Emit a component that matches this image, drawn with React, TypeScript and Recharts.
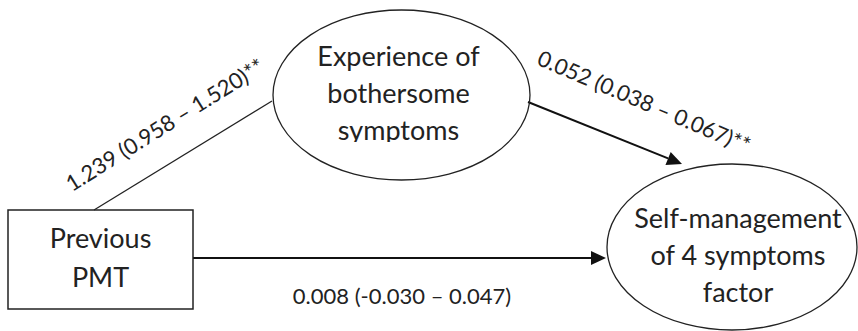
import React from "react";
import { ScatterChart, Scatter, XAxis, YAxis, ReferenceLine } from "recharts";

// ---- data ----
const nodeIds = ["pmt", "bother", "self"];
const nodeLabels = [
  ["Previous", "PMT"],
  ["Experience of", "bothersome", "symptoms"],
  ["Self-management", "of 4 symptoms", "factor"],
];
const nodeX = [100.5, 401.5, 732];
const nodeY = [259.5, 95, 247];

const pathEstimates = [
  "1.239 (0.958 – 1.520)**",
  "0.052 (0.038 – 0.067)**",
  "0.008 (-0.030 – 0.047)",
];
const pathStartX = [94, 528, 193];
const pathStartY = [210, 102, 258];
const pathEndX = [272, 682, 606];
const pathEndY = [101, 164, 258];
const labelX = [165, 644, 402];
const labelY = [125, 102, 296];

// ---- layout / style ----
const W = 858;
const H = 331;
const FONT = "Lato, 'Open Sans', sans-serif";
const nodeStyle: Record<string, any> = {
  pmt: { kind: "rect", w: 185, h: 99, dx: 0, first: -11.5, gap: 39 },
  bother: { kind: "ellipse", rx: 128.5, ry: 85, dx: -3, first: -29, gap: 37, clip: 47 },
  self: { kind: "ellipse", rx: 125, ry: 83, dx: 6, first: -19, gap: 37 },
};
const pathArrow = [false, true, true];
const pathWidth = [1.3, 2, 2];
const labelAngle = [-32, 23, 0];

const nodes = nodeIds.map((id, i) => ({ id, x: nodeX[i], y: nodeY[i], lines: nodeLabels[i] }));
const labels = pathEstimates.map((t, i) => ({ x: labelX[i], y: labelY[i], text: t, angle: labelAngle[i] }));

const NodeShape = (props: any) => {
  const { cx, cy, payload } = props;
  const s = nodeStyle[payload.id];
  const clipId = `clip-${payload.id}`;
  return (
    <g>
      {s.kind === "rect" ? (
        <rect x={cx - s.w / 2} y={cy - s.h / 2} width={s.w} height={s.h} fill="none" stroke="#222" strokeWidth={1.5} />
      ) : (
        <ellipse cx={cx} cy={cy} rx={s.rx} ry={s.ry} fill="none" stroke="#222" strokeWidth={1.3} />
      )}
      {s.clip != null && (
        <defs>
          <clipPath id={clipId}>
            <rect x={cx - s.rx} y={cy - s.ry} width={s.rx * 2} height={s.ry + s.clip} />
          </clipPath>
        </defs>
      )}
      <g clipPath={s.clip != null ? `url(#${clipId})` : undefined}>
        {payload.lines.map((l: string, i: number) => (
          <text
            key={i}
            x={cx + s.dx}
            y={cy + s.first + i * s.gap}
            textAnchor="middle"
            fontFamily={FONT}
            fontSize={27}
            fill="#222"
          >
            {l}
          </text>
        ))}
      </g>
    </g>
  );
};

const LabelShape = (props: any) => {
  const { cx, cy, payload } = props;
  return (
    <text
      x={cx}
      y={cy}
      dy="0.35em"
      textAnchor="middle"
      fontFamily={FONT}
      fontSize={22}
      fill="#222"
      transform={`rotate(${payload.angle} ${cx} ${cy})`}
    >
      {payload.text}
    </text>
  );
};

const edgeShape = (i: number) => (props: any) => {
  const { x1, y1, x2, y2 } = props;
  const w = pathWidth[i];
  if (!pathArrow[i]) {
    return <line x1={x1} y1={y1} x2={x2} y2={y2} stroke="#222" strokeWidth={w} />;
  }
  const ang = Math.atan2(y2 - y1, x2 - x1);
  const len = 15;
  const half = 7;
  const bx = x2 - len * Math.cos(ang);
  const by = y2 - len * Math.sin(ang);
  const px = -Math.sin(ang) * half;
  const py = Math.cos(ang) * half;
  return (
    <g>
      <line x1={x1} y1={y1} x2={bx} y2={by} stroke="#111" strokeWidth={w} />
      <polygon points={`${x2},${y2} ${bx + px},${by + py} ${bx - px},${by - py}`} fill="#111" />
    </g>
  );
};

export default function App() {
  return (
    <div style={{ position: "absolute", left: 0, top: 0, width: W, height: H, background: "#fff" }}>
      <ScatterChart width={W} height={H} margin={{ top: 0, right: 0, bottom: 0, left: 0 }}>
        <XAxis type="number" dataKey="x" domain={[0, W]} hide />
        <YAxis type="number" dataKey="y" domain={[0, H]} reversed hide />
        {pathEstimates.map((_, i) => (
          <ReferenceLine
            key={i}
            segment={[
              { x: pathStartX[i], y: pathStartY[i] },
              { x: pathEndX[i], y: pathEndY[i] },
            ]}
            ifOverflow="visible"
            shape={edgeShape(i)}
          />
        ))}
        <Scatter data={nodes} shape={NodeShape} isAnimationActive={false} />
        <Scatter data={labels} shape={LabelShape} isAnimationActive={false} />
      </ScatterChart>
    </div>
  );
}
